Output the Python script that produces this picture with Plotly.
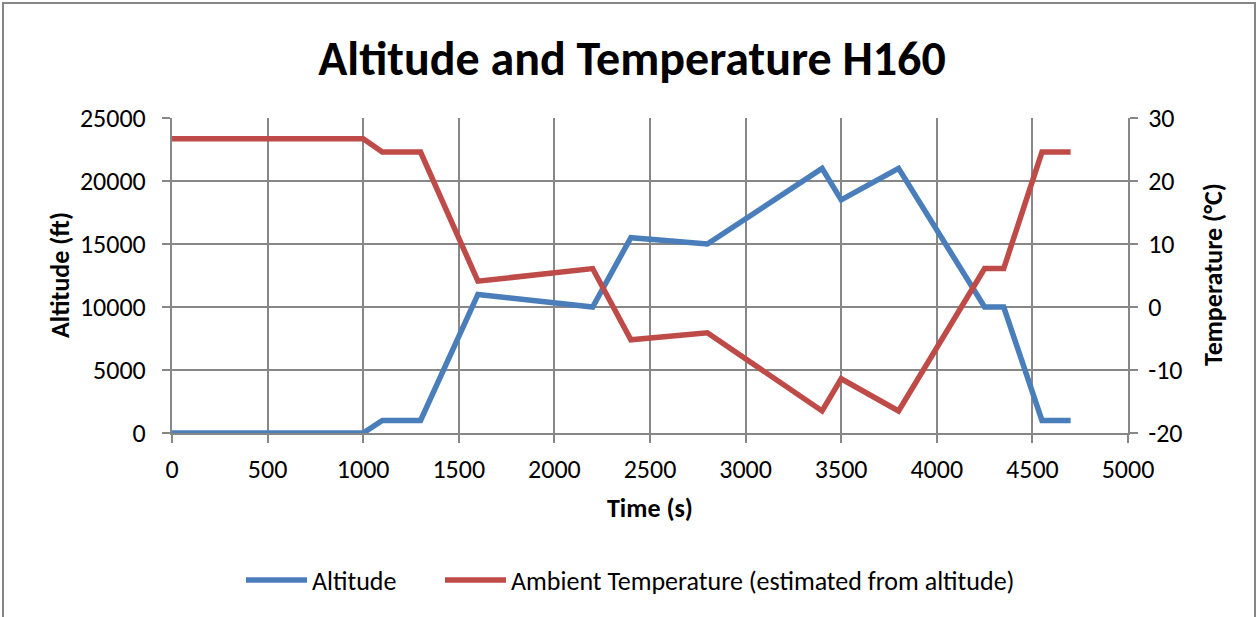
import plotly.graph_objects as go

# Flight profile H160: elapsed time, altitude and estimated ambient temperature
time_s = [0, 1000, 1100, 1300, 1600, 2200, 2400, 2800, 3400, 3500, 3800, 4250, 4350, 4550, 4700]
altitude_ft = [0, 0, 1000, 1000, 11000, 10000, 15500, 15000, 21000, 18500, 21000, 10000, 10000, 1000, 1000]
temperature_c = [26.7, 26.7, 24.6, 24.6, 4.1, 6.1, -5.2, -4.1, -16.5, -11.4, -16.5, 6.1, 6.1, 24.6, 24.6]

x_ticks = list(range(0, 5001, 500))
alt_ticks = list(range(0, 25001, 5000))
temp_ticks = list(range(-20, 31, 10))

FONT = "Carlito, Calibri, Lato, sans-serif"
BLUE = "#4a7ebb"
RED = "#be4b48"
GRID = "#878787"
TXT = 26

W, H = 1258, 617
L, R, T, B = 172, 130, 118, 184
PW, PH = W - L - R, H - T - B


def px_x(px):
    return (px - L) / PW


def px_y(py):
    return (H - B - py) / PH


fig = go.Figure()
fig.add_trace(go.Scatter(
    x=time_s, y=altitude_ft, name="Altitude", mode="lines",
    line=dict(color=BLUE, width=5.5), yaxis="y", legend="legend"))
fig.add_trace(go.Scatter(
    x=time_s, y=temperature_c, name="Ambient Temperature (estimated from altitude)",
    mode="lines", line=dict(color=RED, width=5.5), yaxis="y2", legend="legend2"))

axis_common = dict(
    ticks="outside", ticklen=8, tickwidth=2, tickcolor=GRID,
    showline=True, linecolor=GRID, linewidth=2,
    tickfont=dict(family=FONT, size=TXT, color="#000000"),
    zeroline=False, fixedrange=True,
)

legend_common = dict(
    orientation="h", yanchor="middle", y=px_y(580), xanchor="left",
    font=dict(family=FONT, size=TXT, color="#000000"),
    itemwidth=61, bgcolor="rgba(0,0,0,0)",
)

fig.update_layout(
    width=W, height=H,
    margin=dict(l=L, r=R, t=T, b=B, autoexpand=False),
    paper_bgcolor="white", plot_bgcolor="white",
    font=dict(family=FONT, color="#000000"),
    title=dict(
        text="<b>Altitude and Temperature H160</b>",
        font=dict(family=FONT, size=48, color="#000000"),
        x=632 / W, xanchor="center", y=1 - 58 / H, yanchor="middle",
    ),
    xaxis=dict(
        range=[0, 5000], tickvals=x_ticks, ticktext=[str(v) for v in x_ticks],
        showgrid=True, gridcolor=GRID, gridwidth=2, ticklabelstandoff=4,
        **axis_common,
    ),
    yaxis=dict(
        range=[0, 25000], tickvals=alt_ticks, ticktext=[str(v) for v in alt_ticks],
        showgrid=True, gridcolor=GRID, gridwidth=2, ticklabelstandoff=11,
        **axis_common,
    ),
    yaxis2=dict(
        range=[-20, 30], tickvals=temp_ticks, ticktext=[str(v) for v in temp_ticks],
        overlaying="y", side="right", showgrid=False, ticklabelstandoff=5,
        **axis_common,
    ),
    showlegend=True,
    legend=dict(x=px_x(241), **legend_common),
    legend2=dict(x=px_x(440), **legend_common),
    annotations=[
        dict(text="<b>Altitude (ft)</b>", xref="paper", yref="paper",
             x=px_x(60), y=px_y(275), textangle=-90, showarrow=False,
             xanchor="center", yanchor="middle",
             font=dict(family=FONT, size=TXT, color="#000000")),
        dict(text="<b>Temperature (°C)</b>", xref="paper", yref="paper",
             x=px_x(1213), y=px_y(275), textangle=-90, showarrow=False,
             xanchor="center", yanchor="middle",
             font=dict(family=FONT, size=TXT, color="#000000")),
        dict(text="<b>Time (s)</b>", xref="paper", yref="paper",
             x=px_x(650), y=px_y(508), showarrow=False,
             xanchor="center", yanchor="middle",
             font=dict(family=FONT, size=TXT, color="#000000")),
    ],
    shapes=[
        dict(type="rect", xref="paper", yref="paper",
             x0=px_x(3), x1=px_x(1255), y0=px_y(3), y1=px_y(640),
             line=dict(color="#868686", width=2), fillcolor="rgba(0,0,0,0)",
             layer="below"),
    ],
)

fig.write_html("out.html", config=dict(displayModeBar=False))
